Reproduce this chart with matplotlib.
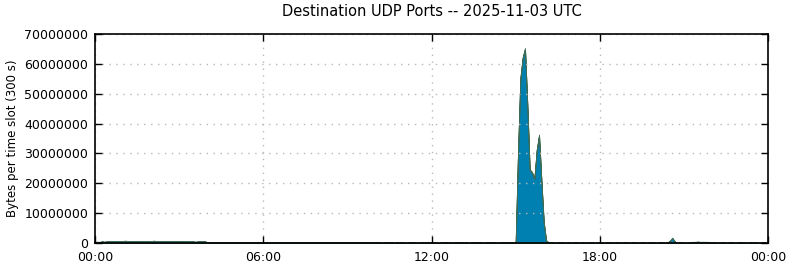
import numpy as np
import matplotlib
matplotlib.use('Agg')
import matplotlib.pyplot as plt

# values in MB per 300 s slot, one row per hour (12 slots each)
udp_main = [
    0.3, 0.4, 0.3, 0.5, 0.4, 0.5, 0.6, 0.5, 0.5, 0.6, 0.5, 0.6,
    0.6, 0.7, 0.6, 0.6, 0.5, 0.6, 0.7, 0.6, 0.6, 0.5, 0.6, 0.6,
    0.6, 0.7, 0.6, 0.7, 0.6, 0.6, 0.7, 0.6, 0.6, 0.7, 0.6, 0.6,
    0.6, 0.5, 0.6, 0.5, 0.6, 0.5, 0.5, 0.4, 0.5, 0.6, 0.5, 0.5,
    0.3, 0.2, 0.2, 0.2, 0.2, 0.2, 0.2, 0.2, 0.2, 0.2, 0.2, 0.2,
    0.2, 0.2, 0.2, 0.2, 0.2, 0.2, 0.2, 0.2, 0.2, 0.2, 0.2, 0.2,
    0.2, 0.2, 0.2, 0.2, 0.2, 0.2, 0.2, 0.2, 0.2, 0.2, 0.2, 0.2,
    0.2, 0.2, 0.2, 0.2, 0.2, 0.2, 0.2, 0.2, 0.2, 0.2, 0.2, 0.2,
    0.2, 0.2, 0.2, 0.2, 0.2, 0.2, 0.2, 0.2, 0.2, 0.2, 0.2, 0.2,
    0.2, 0.2, 0.2, 0.2, 0.2, 0.2, 0.2, 0.2, 0.05, 0.05, 0.05, 0.05,
    0.05, 0.05, 0.05, 0.05, 0.05, 0.05, 0.05, 0.05, 0.05, 0.05, 0.05, 0.05,
    0.05, 0.05, 0.05, 0.05, 0.05, 0.05, 0.05, 0.05, 0.05, 0.05, 0.05, 0.05,
    0.05, 0.05, 0.05, 0.05, 0.05, 0.05, 0.05, 0.05, 0.05, 0.05, 0.05, 0.05,
    0.05, 0.05, 0.05, 0.05, 0.05, 0.05, 0.05, 0.05, 0.05, 0.05, 0.05, 0.05,
    0.05, 0.05, 0.05, 0.05, 0.05, 0.05, 0.05, 0.05, 0.05, 0.05, 0.05, 0.05,
    0.3, 30.0, 55.0, 62.0, 65.0, 46.0, 24.5, 23.5, 21.5, 31.0, 36.0, 21.0,
    7.0, 0.8, 0.05, 0.05, 0.05, 0.05, 0.05, 0.05, 0.05, 0.05, 0.05, 0.05,
    0.05, 0.05, 0.05, 0.05, 0.05, 0.05, 0.05, 0.05, 0.05, 0.05, 0.05, 0.05,
    0.05, 0.05, 0.05, 0.05, 0.05, 0.05, 0.05, 0.05, 0.05, 0.05, 0.05, 0.05,
    0.05, 0.05, 0.05, 0.05, 0.05, 0.05, 0.05, 0.05, 0.05, 0.05, 0.05, 0.05,
    0.05, 0.05, 0.05, 0.05, 0.05, 0.1, 0.6, 1.6, 0.5, 0.05, 0.05, 0.05,
    0.05, 0.05, 0.05, 0.1, 0.3, 0.3, 0.4, 0.3, 0.3, 0.3, 0.2, 0.05,
    0.05, 0.05, 0.05, 0.05, 0.05, 0.05, 0.05, 0.05, 0.05, 0.05, 0.05, 0.05,
    0.05, 0.05, 0.05, 0.05, 0.05, 0.05, 0.05, 0.05, 0.05, 0.05, 0.05, 0.05,
]

udp_other = [
    0.1, 0.0, 0.1, 0.1, 0.0, 0.1, 0.1, 0.0, 0.1, 0.1, 0.1, 0.0,
    0.1, 0.1, 0.0, 0.1, 0.1, 0.1, 0.0, 0.1, 0.1, 0.0, 0.1, 0.1,
    0.0, 0.1, 0.1, 0.0, 0.1, 0.1, 0.0, 0.1, 0.1, 0.0, 0.1, 0.1,
    0.1, 0.0, 0.1, 0.1, 0.0, 0.1, 0.1, 0.0, 0.1, 0.0, 0.1, 0.1,
    0.0, 0.0, 0.0, 0.0, 0.0, 0.0, 0.0, 0.0, 0.0, 0.0, 0.0, 0.0,
    0.0, 0.0, 0.0, 0.0, 0.0, 0.0, 0.0, 0.0, 0.0, 0.0, 0.0, 0.0,
    0.0, 0.0, 0.0, 0.0, 0.0, 0.0, 0.0, 0.0, 0.0, 0.0, 0.0, 0.0,
    0.0, 0.0, 0.0, 0.0, 0.0, 0.0, 0.0, 0.0, 0.0, 0.0, 0.0, 0.0,
    0.0, 0.0, 0.0, 0.0, 0.0, 0.0, 0.0, 0.0, 0.0, 0.0, 0.0, 0.0,
    0.0, 0.0, 0.0, 0.0, 0.0, 0.0, 0.0, 0.0, 0.2, 0.3, 0.2, 0.3,
    0.3, 0.2, 0.3, 0.0, 0.3, 0.3, 0.2, 0.3, 0.0, 0.3, 0.2, 0.3,
    0.3, 0.0, 0.2, 0.3, 0.3, 0.2, 0.0, 0.3, 0.3, 0.2, 0.3, 0.3,
    0.2, 0.3, 0.3, 0.0, 0.2, 0.3, 0.3, 0.2, 0.3, 0.0, 0.3, 0.2,
    0.3, 0.3, 0.2, 0.3, 0.0, 0.3, 0.3, 0.2, 0.3, 0.3, 0.0, 0.2,
    0.3, 0.2, 0.3, 0.3, 0.0, 0.2, 0.3, 0.3, 0.2, 0.3, 0.3, 0.2,
    0.2, 0.3, 0.3, 0.3, 0.3, 0.3, 0.3, 0.3, 0.3, 0.3, 0.3, 0.3,
    0.3, 0.2, 0.3, 0.2, 0.3, 0.0, 0.2, 0.3, 0.3, 0.0, 0.2, 0.2,
    0.0, 0.3, 0.2, 0.0, 0.2, 0.3, 0.0, 0.2, 0.2, 0.3, 0.0, 0.2,
    0.3, 0.2, 0.0, 0.3, 0.2, 0.2, 0.0, 0.3, 0.2, 0.0, 0.2, 0.3,
    0.2, 0.0, 0.3, 0.2, 0.2, 0.0, 0.3, 0.2, 0.0, 0.2, 0.2, 0.3,
    0.0, 0.2, 0.3, 0.2, 0.0, 0.2, 0.2, 0.2, 0.2, 0.0, 0.3, 0.2,
    0.2, 0.0, 0.2, 0.2, 0.1, 0.1, 0.1, 0.1, 0.1, 0.1, 0.2, 0.3,
    0.2, 0.3, 0.0, 0.2, 0.2, 0.3, 0.0, 0.2, 0.3, 0.2, 0.0, 0.2,
    0.3, 0.2, 0.2, 0.0, 0.3, 0.2, 0.2, 0.3, 0.0, 0.2, 0.3, 0.2,
]

slot_hours = np.arange(len(udp_main)) * 5 / 60.0
main_bytes = np.array(udp_main) * 1e6
other_bytes = np.array(udp_other) * 1e6

x_ticks = [0, 6, 12, 18, 24]
x_labels = ['00:00', '06:00', '12:00', '18:00', '00:00']
y_ticks = np.arange(0, 70000001, 10000000)

fig = plt.figure(figsize=(7.9, 2.67), dpi=100)
ax = fig.add_axes([0.1203, 0.0899, 0.8519, 0.7828])

ax.stackplot(slot_hours, main_bytes, other_bytes,
             colors=['#0080b0', '#9a9060'], edgecolor='#3d6b55', linewidth=0.6)

ax.set_xlim(0, 24)
ax.set_ylim(0, 70000000)
ax.set_xticks(x_ticks)
ax.set_xticklabels(x_labels)
ax.set_yticks(y_ticks)
ax.ticklabel_format(axis='y', style='plain', useOffset=False)
ax.tick_params(direction='in', top=True, right=True, length=5, width=1,
               labelsize=9)
ax.tick_params(axis='x', pad=6)
ax.tick_params(axis='y', pad=5)
ax.grid(True, color='#b8b8b8', linestyle=(0, (1, 4)), linewidth=1)
for s in ax.spines.values():
    s.set_linewidth(1.2)

ax.set_ylabel('Bytes per time slot (300 s)', fontsize=8.5)
ax.set_title('Destination UDP Ports -- 2025-11-03 UTC', fontsize=10.5, pad=13)

fig.savefig('out.png', dpi=100)
